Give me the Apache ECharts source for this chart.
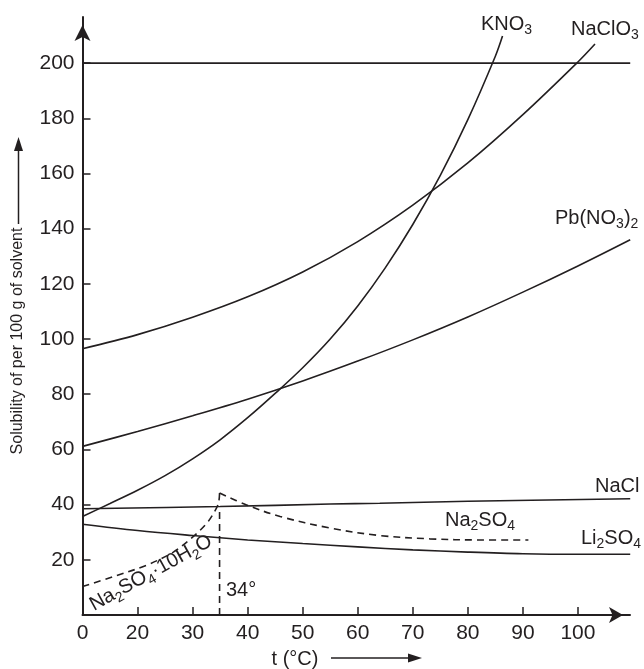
<!DOCTYPE html>
<html><head><meta charset="utf-8">
<script src="https://cdn.jsdelivr.net/npm/echarts@6/dist/echarts.min.js"></script>
<style>html,body{margin:0;padding:0;background:#fff}#c{width:644px;height:669px}</style>
</head><body><div id="c"></div>
<script>
const INK = '#231f20';
const FONT = '"Liberation Sans", Arial, Helvetica, sans-serif';

// x axis: axis value 10 is the labelled "0" origin (first interval is compressed), 20..100 linear
const xTickValues = [10, 20, 30, 40, 50, 60, 70, 80, 90, 100];
const xTickLabels = ['0', '20', '30', '40', '50', '60', '70', '80', '90', '100'];
const yTickValues = [20, 40, 60, 80, 100, 120, 140, 160, 180, 200];

// curves, [axis x, solubility]
const kno3 = [[10,35.7],[15,40.4],[20,45.2],[25,50.5],[30,56.6],[35,63.5],[40,71.5],[45,80.3],[50,89.6],[55,100],[60,112],[65,125.8],[70,141.5],[75,159.3],[80,179.5],[85,202.5],[86.3,209.8]];
const naclo3 = [[10,96.5],[20,101.6],[30,107.9],[40,115.3],[50,124.3],[60,135.3],[70,148.5],[80,163.8],[90,181.3],[100,200.4],[103.1,206.9]];
const pbno32 = [[10,61.1],[20,66.5],[30,72.2],[40,78.2],[50,84.8],[60,92],[70,99.7],[80,108],[90,117],[100,126.5],[109.5,136]];
const nacl = [[10,38.5],[35,39.3],[55,40.2],[64,40.5],[80,41.2],[109.5,42.1]];
const li2so4 = [[10,32.9],[20,30.6],[30,28.8],[40,27.2],[50,25.9],[60,24.7],[70,23.6],[80,22.8],[90,22.2],[100,22],[109.5,22]];
const na2so4Hydrate = [[10,10.3],[15.6,13.9],[21.7,18.1],[26.5,22.8],[30.1,28.4],[32.6,33.3],[34,37.5],[34.7,40.5],[34.9,44.2]];
const na2so4 = [[34.9,44.2],[39.8,39.9],[45.9,35.7],[55,31.5],[64,28.8],[73.1,27.6],[82.2,27.2],[91,27.2]];
const transition34 = [[34.9,0],[34.9,39.5]];
const line200 = [[10,200],[109.5,200]];

function curve(data, dashed) {
  return {
    type: 'line', data: data, symbol: 'none', smooth: dashed === 'v' ? false : 0.35,
    silent: true,
    lineStyle: { color: INK, width: 1.6, type: dashed ? [7, 5] : 'solid' }
  };
}

const subRich = {
  n: { font: '20px ' + FONT, fill: INK },
  s: { font: '14px ' + FONT, fill: INK, padding: [13, 0, 0, 0] }
};
function label(text, x, y, extra) {
  return Object.assign({
    type: 'text', x: x, y: y, silent: true,
    style: { text: text, rich: subRich, font: '20px ' + FONT, fill: INK, align: 'left', verticalAlign: 'middle' }
  }, extra || {});
}

const chart = echarts.init(document.getElementById('c'), null, { renderer: 'canvas' });
chart.setOption({
  animation: false,
  backgroundColor: '#fff',
  grid: { left: 82.5, right: 14, top: 17, bottom: 54 },
  xAxis: {
    type: 'value', min: 10, max: 109.46,
    axisLine: { lineStyle: { color: INK, width: 2 }, symbol: ['none', 'arrow'], symbolSize: [12, 14], symbolOffset: [0, -7] },
    axisTick: { inside: true, length: 8, lineStyle: { color: INK, width: 1.5 }, customValues: xTickValues.slice(1) },
    axisLabel: {
      customValues: xTickValues, margin: 8, color: INK, fontSize: 21, fontFamily: FONT,
      formatter: function (v) { const i = xTickValues.indexOf(v); return i >= 0 ? xTickLabels[i] : ''; }
    },
    splitLine: { show: false }
  },
  yAxis: {
    type: 'value', min: 0, max: 216.7,
    axisLine: { show: true, lineStyle: { color: INK, width: 2 }, symbol: ['none', 'arrow'], symbolSize: [12, 16], symbolOffset: [0, -8] },
    axisTick: { show: true, inside: true, length: 8, lineStyle: { color: INK, width: 1.5 }, customValues: yTickValues },
    axisLabel: { customValues: yTickValues, margin: 8, color: INK, fontSize: 21, fontFamily: FONT },
    splitLine: { show: false }
  },
  series: [
    curve(line200), curve(kno3), curve(naclo3), curve(pbno32), curve(nacl), curve(li2so4),
    curve(na2so4Hydrate, true), curve(na2so4, true), curve(transition34, 'v')
  ],
  graphic: [
    label('{n|KNO}{s|3}', 481, 24),
    label('{n|NaClO}{s|3}', 571, 29),
    label('{n|Pb(NO}{s|3}{n|)}{s|2}', 555, 218),
    label('{n|NaCl}', 595, 486),
    label('{n|Na}{s|2}{n|SO}{s|4}', 445, 520),
    label('{n|Li}{s|2}{n|SO}{s|4}', 581, 538),
    label('{n|34°}', 226, 590),
    {
      type: 'text', x: 151, y: 573, rotation: 29 * Math.PI / 180, silent: true,
      style: { text: '{n|Na}{s|2}{n|SO}{s|4}{n|·10H}{s|2}{n|O}', rich: subRich, font: '20px ' + FONT, fill: INK, align: 'center', verticalAlign: 'middle' }
    },
    {
      type: 'text', x: 18, y: 341, rotation: Math.PI / 2, silent: true,
      style: { text: 'Solubility of per 100 g of solvent', font: '16px ' + FONT, fill: INK, align: 'center', verticalAlign: 'middle' }
    },
    { type: 'line', silent: true, shape: { x1: 18.5, y1: 224, x2: 18.5, y2: 146 }, style: { stroke: INK, lineWidth: 1.5 } },
    { type: 'polygon', silent: true, shape: { points: [[18.5, 137], [14, 151], [23, 151]] }, style: { fill: INK } },
    {
      type: 'text', x: 295, y: 659, silent: true,
      style: { text: 't (°C)', font: '20px ' + FONT, fill: INK, align: 'center', verticalAlign: 'middle' }
    },
    { type: 'line', silent: true, shape: { x1: 331, y1: 658, x2: 412, y2: 658 }, style: { stroke: INK, lineWidth: 1.5 } },
    { type: 'polygon', silent: true, shape: { points: [[422, 658], [408, 653.5], [408, 662.5]] }, style: { fill: INK } }
  ]
});
</script></body></html>
